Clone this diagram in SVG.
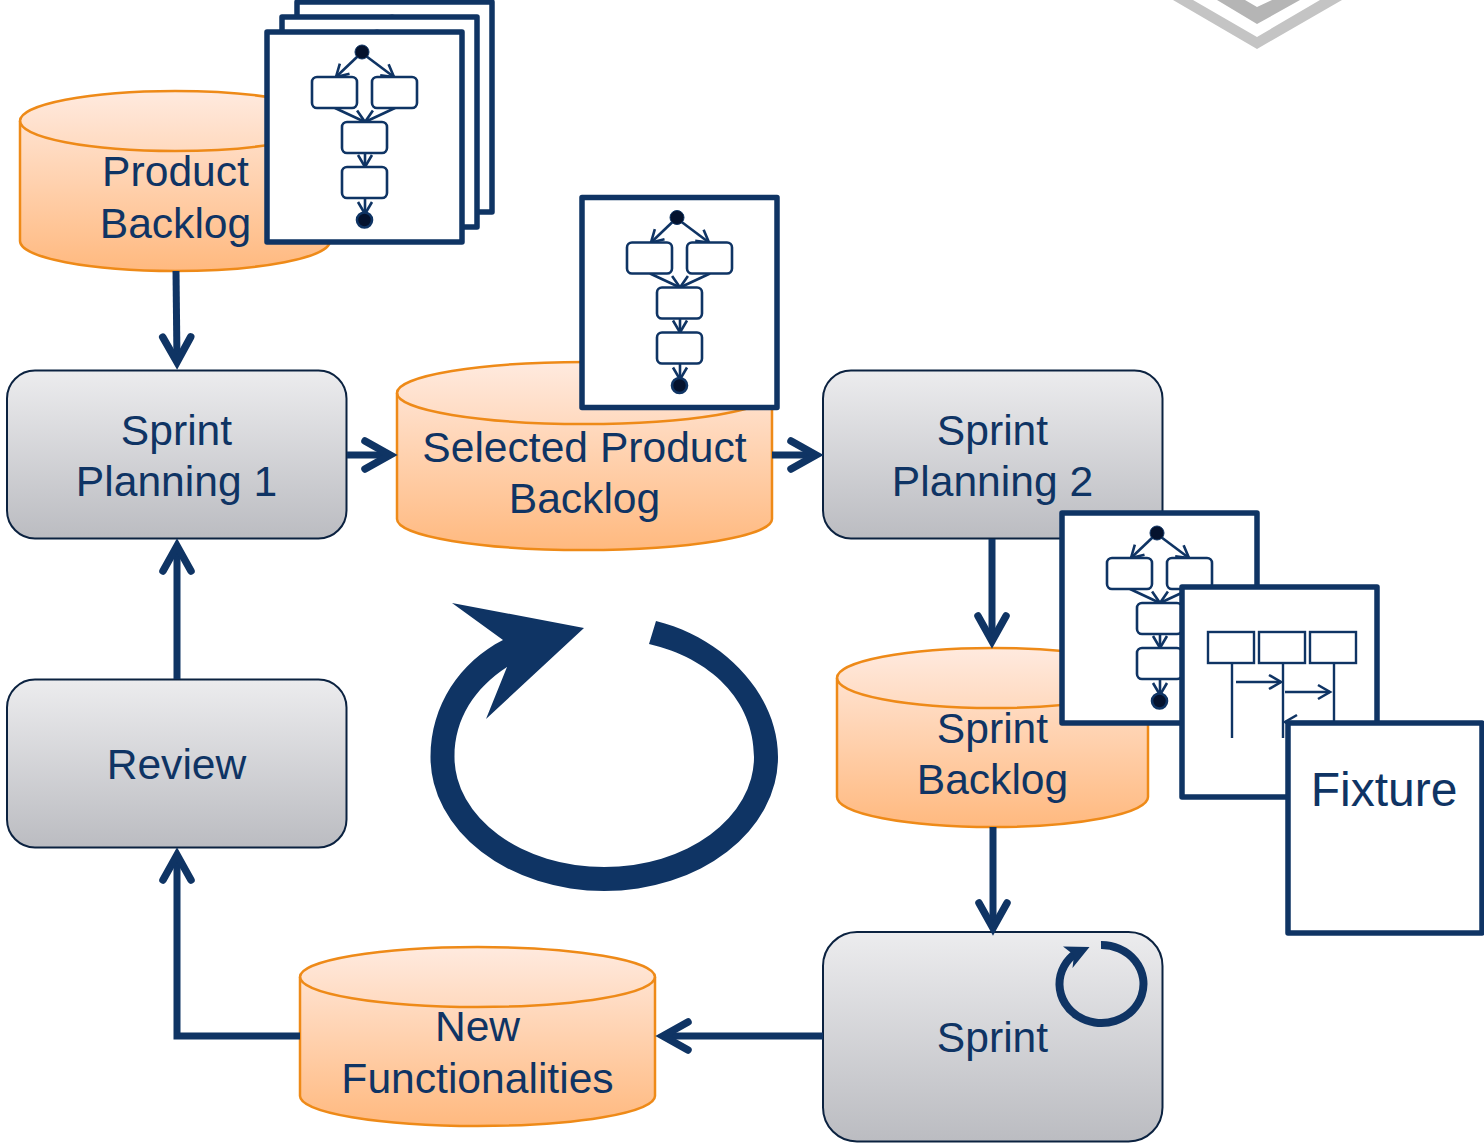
<svg xmlns="http://www.w3.org/2000/svg" xmlns:xlink="http://www.w3.org/1999/xlink" width="1484" height="1144" viewBox="0 0 1484 1144">
<style>
text{font-family:"Liberation Sans",Arial,sans-serif;font-size:42.600px;fill:#0f3464;text-anchor:middle}
.box{fill:url(#gb);stroke:#0b2240;stroke-width:2}
.cyl{fill:url(#go);stroke:#ee8a18;stroke-width:2.500}
.lid{fill:none;stroke:#ee8a18;stroke-width:2.500}
.frame{fill:#fff;stroke:#0f3464;stroke-width:5.500;stroke-linejoin:round}
.act{fill:#fff;stroke:#0f3464;stroke-width:2.600}
.thin{fill:none;stroke:#0f3464;stroke-width:2.400}
.con{fill:none;stroke:#0f3464;stroke-width:7;marker-end:url(#ah)}
</style>
<defs>
<linearGradient id="gb" x1="0" y1="0" x2="0" y2="1"><stop offset="0" stop-color="#ececee"/><stop offset="1" stop-color="#bbbcc1"/></linearGradient>
<linearGradient id="go" x1="0" y1="0" x2="0" y2="1"><stop offset="0" stop-color="#ffeadf"/><stop offset="1" stop-color="#ffb97f"/></linearGradient>
<marker id="ah" markerUnits="userSpaceOnUse" markerWidth="40" markerHeight="40" refX="30" refY="20" orient="auto" overflow="visible"><path d="M5,6 L30,20 L5,34" fill="none" stroke="#0f3464" stroke-width="7.500" stroke-linecap="round"/></marker>
<marker id="sh" markerUnits="userSpaceOnUse" markerWidth="20" markerHeight="20" refX="14" refY="10" orient="auto" overflow="visible"><path d="M2,3 L14,10 L2,17" fill="none" stroke="#0f3464" stroke-width="2.600"/></marker>
<g id="activity">
<rect class="frame" x="0" y="0" width="195" height="210"/>
<g fill="none" stroke="#0f3464" stroke-width="2.600">
<path d="M91,24 L69,45" marker-end="url(#sh)"/>
<path d="M99,24 L127,45" marker-end="url(#sh)"/>
<path d="M68,76 L98,90" marker-end="url(#sh)"/>
<path d="M128,76 L98,90" marker-end="url(#sh)"/>
<path d="M98,121 L98,135" marker-end="url(#sh)"/>
<path d="M98,166 L98,182" marker-end="url(#sh)"/>
</g>
<rect class="act" x="45" y="45" width="45" height="31" rx="5"/>
<rect class="act" x="105" y="45" width="45" height="31" rx="5"/>
<rect class="act" x="75" y="90" width="45" height="31" rx="5"/>
<rect class="act" x="75" y="135" width="45" height="31" rx="5"/>
<circle cx="95" cy="20" r="7" fill="#04122e" stroke="#0f3464" stroke-width="1"/>
<circle cx="97.500" cy="188" r="7.500" fill="#04122e" stroke="#0f3464" stroke-width="2.600"/>
</g>
</defs>

<g id="watermark">
<polygon points="1173,0 1257,49 1342,0 1320,0 1257,37 1193,0" fill="#c4c4c4"/>
<polygon points="1217,0 1257,24 1300,0 1272,0 1257,7 1245,0" fill="#b5b5b5"/>
</g>

<g id="product-backlog">
<path class="cyl" d="M20,121 V241 A155,30 0 0 0 330,241 V121 A155,30 0 0 0 20,121 Z"/>
<path class="lid" d="M20,121 A155,30 0 0 0 330,121"/>
<text x="175.500" y="186">Product</text><text x="175.500" y="238">Backlog</text>
</g>
<g id="activity-stack">
<use xlink:href="#activity" href="#activity" x="297" y="2"/>
<use xlink:href="#activity" href="#activity" x="282" y="17"/>
<use xlink:href="#activity" href="#activity" x="267" y="32"/>
</g>

<g id="sprint-planning-1">
<rect class="box" x="7" y="370.500" width="339.500" height="168" rx="28"/>
<text x="176.500" y="445">Sprint</text><text x="176.500" y="496">Planning 1</text>
</g>
<g id="selected-product-backlog">
<path class="cyl" d="M397,393 V519 A187.500,31 0 0 0 772,519 V393 A187.500,31 0 0 0 397,393 Z"/>
<path class="lid" d="M397,393 A187.500,31 0 0 0 772,393"/>
<text x="584.500" y="462">Selected Product</text><text x="584.500" y="513">Backlog</text>
</g>
<g id="selected-activity">
<use xlink:href="#activity" href="#activity" x="582" y="197.500"/>
</g>
<g id="sprint-planning-2">
<rect class="box" x="823" y="370.500" width="339.500" height="168" rx="28"/>
<text x="992.500" y="445">Sprint</text><text x="992.500" y="496">Planning 2</text>
</g>
<g id="review">
<rect class="box" x="7" y="679.500" width="339.500" height="168" rx="28"/>
<text x="176.500" y="779">Review</text>
</g>
<g id="sprint-backlog">
<path class="cyl" d="M837,678 V797 A155.500,30 0 0 0 1148,797 V678 A155.500,30 0 0 0 837,678 Z"/>
<path class="lid" d="M837,678 A155.500,30 0 0 0 1148,678"/>
<text x="992.500" y="743">Sprint</text><text x="992.500" y="794">Backlog</text>
</g>
<g id="sprint">
<rect class="box" x="823" y="932" width="339.500" height="209.500" rx="34"/>
<text x="992.500" y="1052">Sprint</text>
<path d="M1101,945 A42,39 0 1 1 1076,953" fill="none" stroke="#0f3464" stroke-width="8"/>
<polygon points="1063,946.500 1089.500,947 1072.500,968 1074,955" fill="#0f3464"/>
</g>
<g id="new-functionalities">
<path class="cyl" d="M300,977 V1096 A177.500,30 0 0 0 655,1096 V977 A177.500,30 0 0 0 300,977 Z"/>
<path class="lid" d="M300,977 A177.500,30 0 0 0 655,977"/>
<text x="477.500" y="1041">New</text><text x="477.500" y="1093">Functionalities</text>
</g>
<g id="planning-activity">
<use xlink:href="#activity" href="#activity" x="1062" y="513"/>
</g>
<g id="sequence-diagram">
<rect class="frame" x="1182" y="587" width="195" height="210"/>
<rect class="thin" x="1208" y="632" width="46" height="31"/>
<rect class="thin" x="1259" y="632" width="46" height="31"/>
<rect class="thin" x="1310" y="632" width="46" height="31"/>
<path class="thin" d="M1232,663 V738 M1283,663 V738 M1334,663 V738"/>
<path class="thin" d="M1236,682 H1281" marker-end="url(#sh)"/>
<path class="thin" d="M1285,692 H1330" marker-end="url(#sh)"/>
<path class="thin" d="M1334,722 H1285" marker-end="url(#sh)"/>
</g>
<g id="fixture">
<rect class="frame" x="1288" y="723" width="194" height="210"/>
<text x="1384" y="805.500" style="font-size:48px">Fixture</text>
</g>

<g id="cycle">
<path fill="#0f3464" d="M656,621 C725,638 778,695 778,757 A173.750,134 0 0 1 430.500,757 C430.500,705 460,662 503,640 L452,603 L584,628 L486,719 L507,667 C475,688 454.500,718 454.500,757 A149.750,110 0 0 0 754,757 C754,700 710,658 649,644 Z"/>
</g>

<g id="connectors">
<path class="con" d="M176,271 L177,362"/>
<path class="con" d="M347,455 L390,455"/>
<path class="con" d="M772,455 L816,455"/>
<path class="con" d="M992,539 L992,641"/>
<path class="con" d="M993,827 L993,928"/>
<path class="con" d="M823,1036 L663,1036"/>
<path class="con" d="M300,1036 L177,1036 L177,855"/>
<path class="con" d="M177,679 L177,546"/>
</g>
</svg>
